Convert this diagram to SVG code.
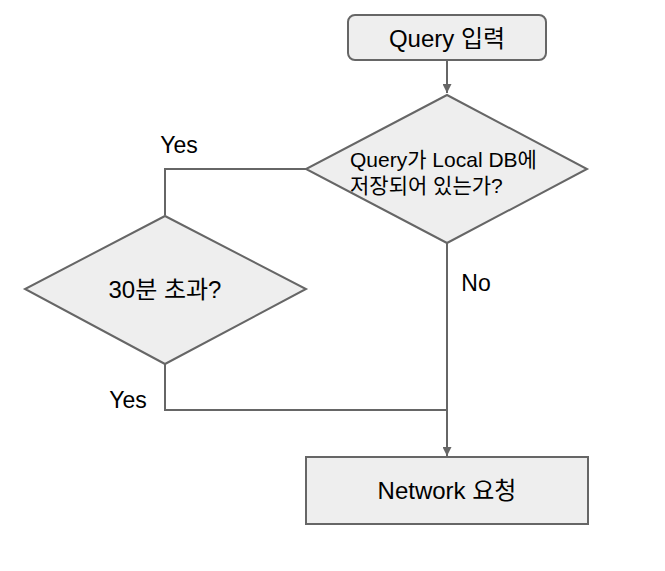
<svg xmlns="http://www.w3.org/2000/svg" width="665" height="571" viewBox="0 0 665 571">
<style>
.n{fill:#eeeeee;stroke:#666666;stroke-width:2}
.c{fill:none;stroke:#666666;stroke-width:2}
text{font-family:"Liberation Sans","Noto Sans CJK KR",sans-serif;fill:#000}
.t{font-size:24px;text-anchor:middle}
.l{font-size:23px;text-anchor:middle}
.d{font-size:21px}
</style>
<defs>
<marker id="ah" viewBox="0 0 10 10" refX="10" refY="5" markerWidth="4.5" markerHeight="4.5" markerUnits="strokeWidth" orient="auto">
<path d="M0,0 L10,5 L0,10 z" fill="#666666"/>
</marker>
</defs>
<rect width="665" height="571" fill="#ffffff"/>
<g id="connectors">
<line class="c" x1="447" y1="60" x2="447" y2="93" marker-end="url(#ah)"/>
<polyline class="c" points="306,169 165,169 165,215"/>
<polyline class="c" points="165,364 165,410 447,410"/>
<line class="c" x1="447" y1="243" x2="447" y2="456" marker-end="url(#ah)"/>
<text class="l" x="179" y="153">Yes</text>
<text class="l" x="476" y="291">No</text>
<text class="l" x="128" y="408">Yes</text>
</g>
<g id="start">
<rect class="n" x="348" y="15" width="198" height="45" rx="7"/>
<text class="t" x="447" y="47">Query 입력</text>
</g>
<g id="decision1">
<polygon class="n" points="447,95 587,169 447,243 306,169"/>
<text class="d" x="350" y="167">Query가 Local DB에</text>
<text class="d" x="350" y="193">저장되어 있는가?</text>
</g>
<g id="decision2">
<polygon class="n" points="165,216 306,289 165,364 25,289"/>
<text class="t" x="165" y="298">30분 초과?</text>
</g>
<g id="network">
<rect class="n" x="306" y="457" width="282" height="67"/>
<text class="t" x="447" y="499">Network 요청</text>
</g>
</svg>
